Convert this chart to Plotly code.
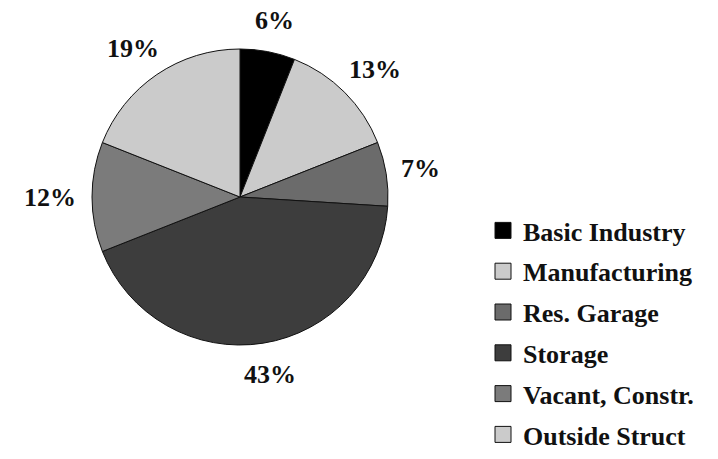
import math
import plotly.graph_objects as go

categories = ["Basic Industry", "Manufacturing", "Res. Garage", "Storage",
              "Vacant, Constr.", "Outside Struct"]
shares = [6, 13, 7, 43, 12, 19]
pct_labels = ["6%", "13%", "7%", "43%", "12%", "19%"]
colors = ["#000000", "#cbcbcb", "#6b6b6b", "#3d3d3d", "#7b7b7b", "#cbcbcb"]

W, H = 718, 459
CX, CY, R = 240, 197, 148
FONT = "Liberation Serif, Times New Roman, serif"

fig = go.Figure()
fig.add_trace(go.Pie(
    labels=categories, values=shares, sort=False, direction="clockwise",
    rotation=0, textinfo="none", showlegend=False,
    marker=dict(colors=colors, line=dict(color="#111111", width=1)),
    domain=dict(x=[(CX - R) / W, (CX + R) / W], y=[(H - CY - R) / H, (H - CY + R) / H]),
    hoverinfo="label+percent",
))

# legend entries (square swatches)
for i, (cat, col) in enumerate(zip(categories, colors)):
    fig.add_trace(go.Scatter(
        x=[None], y=[None], mode="markers", name=cat, legendgroup=f"g{i}",
        marker=dict(symbol="square", size=16, color=col, line=dict(color="#111111", width=1)),
    ))

# percentage labels placed outside their slices
total = sum(shares)
cum = 0
annotations = []
for v, txt in zip(shares, pct_labels):
    th = 2 * math.pi * (cum + v / 2) / total
    cum += v
    w, h, g = 15 * len(txt), 24, 20
    px = CX + (R + g) * math.sin(th) + (w / 2) * math.sin(th)
    py = CY - (R + g) * math.cos(th) - (h / 2) * math.cos(th)
    annotations.append(dict(
        x=px / W, y=(H - py) / H, xref="paper", yref="paper", text=txt,
        showarrow=False, xanchor="center", yanchor="middle",
        font=dict(family=FONT, size=26, color="#111111", weight="bold"),
    ))

fig.update_layout(
    width=W, height=H, margin=dict(l=0, r=0, t=0, b=0, autoexpand=False),
    paper_bgcolor="white", plot_bgcolor="white",
    xaxis=dict(visible=False), yaxis=dict(visible=False),
    annotations=annotations,
    legend=dict(
        x=483 / W, y=(H - 207) / H, xanchor="left", yanchor="top",
        font=dict(family=FONT, size=26, color="#111111", weight="bold"),
        tracegroupgap=4, bgcolor="rgba(0,0,0,0)",
    ),
    showlegend=True,
)

fig.write_html("out.html", config={"displayModeBar": False},
               post_script="document.body.style.margin='0';")
